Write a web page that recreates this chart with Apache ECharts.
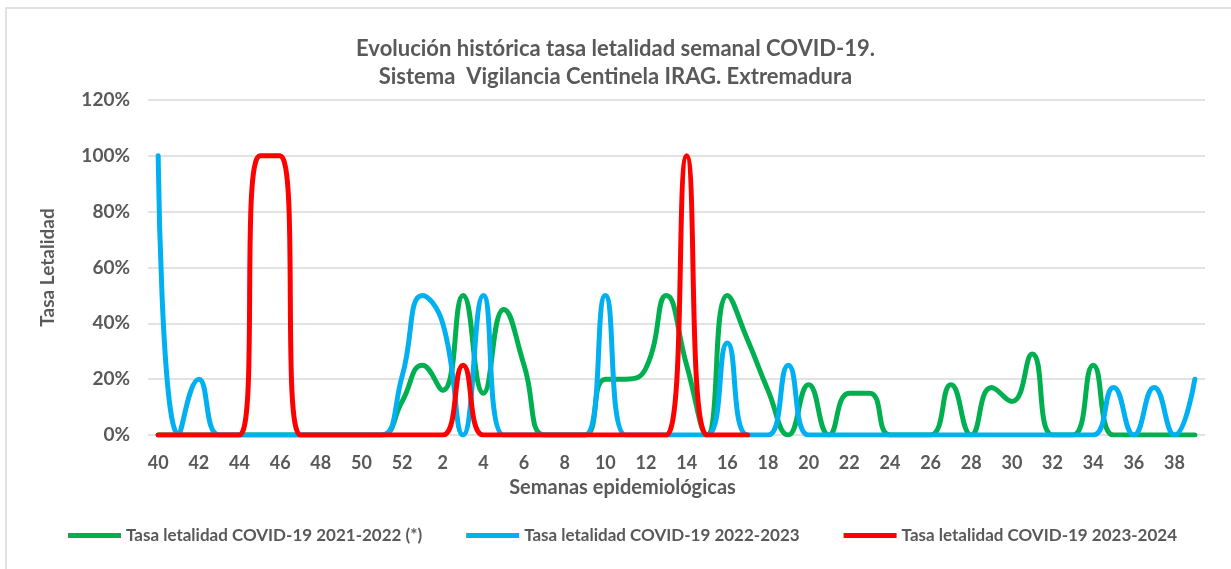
<!DOCTYPE html>
<html>
<head>
<meta charset="utf-8">
<title>Tasa letalidad COVID-19</title>
<script src="https://cdn.jsdelivr.net/npm/echarts@6/dist/echarts.min.js"></script>
<style>
  html, body { margin: 0; padding: 0; background: #fff; }
  #chart { width: 1231px; height: 569px; }
</style>
</head>
<body>
<div id="chart"></div>
<script>
// semanas: 40..52 y luego 1..39
const weeks = ['40','41','42','43','44','45','46','47','48','49','50','51','52',
  '1','2','3','4','5','6','7','8','9','10','11','12','13','14','15','16','17','18','19','20',
  '21','22','23','24','25','26','27','28','29','30','31','32','33','34','35','36','37','38','39']

// valores en %
const s2122 = [0,0,0,0,0,0,0,0,0,0,0,0,12,
  25,16,50,15,45,25,0,0,0,20,20,24,50,25,0,50,34,16,0,18,
  0,15,15,0,0,0,18,0,17,12,29,0,0,25,0,0,0,0,0]
const s2223 = [100,0,20,0,0,0,0,0,0,0,0,0,21,
  50,40,0,50,0,0,0,0,0,50,0,0,0,0,0,33,0,0,25,0,
  0,0,0,0,0,0,0,0,0,0,0,0,0,0,17,0,17,0,20]
const s2324 = [0,0,0,0,0,100,100,0,0,0,0,0,0,
  0,0,25,0,0,0,0,0,0,0,0,0,0,100,0,0,0]

const yTicks = [0, 20, 40, 60, 80, 100, 120]

const names = ['Tasa letalidad COVID-19 2021-2022 (*)', 'Tasa letalidad COVID-19 2022-2023', 'Tasa letalidad COVID-19 2023-2024']
const colors = ['#00b050', '#00b0f0', '#ff0000']

const gray = '#595959'
const font = 'Lato, "Open Sans", sans-serif'

const myChart = echarts.init(document.getElementById('chart'), null, { renderer: 'canvas' })

const mkSeries = (i, data) => ({
  name: names[i],
  type: 'line',
  data: data,
  smooth: true,
  symbol: 'none',
  lineStyle: { width: 5, color: colors[i], cap: 'round', join: 'round' },
  itemStyle: { color: colors[i] }
})

const option = {
  animation: false,
  textStyle: { fontFamily: font },
  title: {
    text: 'Evolución histórica tasa letalidad semanal COVID-19.\nSistema  Vigilancia Centinela IRAG. Extremadura',
    left: 'center',
    top: 30,
    textStyle: { fontSize: 22, fontWeight: 'bold', color: gray, lineHeight: 28, fontFamily: font }
  },
  legend: {
    left: 68,
    top: 527,
    padding: 0,
    itemWidth: 53,
    itemHeight: 5,
    itemGap: 44,
    icon: 'rect',
    textStyle: { fontSize: 17, fontWeight: 'bold', color: gray, fontFamily: font },
    data: names
  },
  grid: {
    left: 148,
    right: 26,
    top: 100,
    bottom: 134
  },
  xAxis: {
    type: 'category',
    data: weeks,
    boundaryGap: true,
    name: 'Semanas epidemiológicas',
    nameLocation: 'middle',
    nameGap: 43,
    nameTextStyle: { fontSize: 20, fontWeight: 'bold', color: gray, padding: [0, 108, 0, 0] },
    axisLine: { show: false },
    axisTick: { show: false },
    axisLabel: { interval: 1, margin: 19, fontSize: 18, fontWeight: 'bold', color: gray }
  },
  yAxis: {
    type: 'value',
    min: yTicks[0],
    max: yTicks[yTicks.length - 1],
    interval: 20,
    name: 'Tasa Letalidad',
    nameLocation: 'middle',
    nameGap: 91,
    nameTextStyle: { fontSize: 19, fontWeight: 'bold', color: gray },
    axisLine: { show: false },
    axisTick: { show: false },
    axisLabel: { formatter: '{value}%', margin: 18, fontSize: 19, fontWeight: 'bold', color: gray },
    splitLine: { lineStyle: { color: '#d9d9d9', width: 1.5 } }
  },
  graphic: [{
    type: 'rect',
    silent: true,
    shape: { x: 6, y: 8, width: 1300, height: 620 },
    style: { fill: 'none', stroke: '#d9d9d9', lineWidth: 1.5 }
  }],
  series: [mkSeries(0, s2122), mkSeries(1, s2223), mkSeries(2, s2324)]
}

option && myChart.setOption(option)
</script>
</body>
</html>
